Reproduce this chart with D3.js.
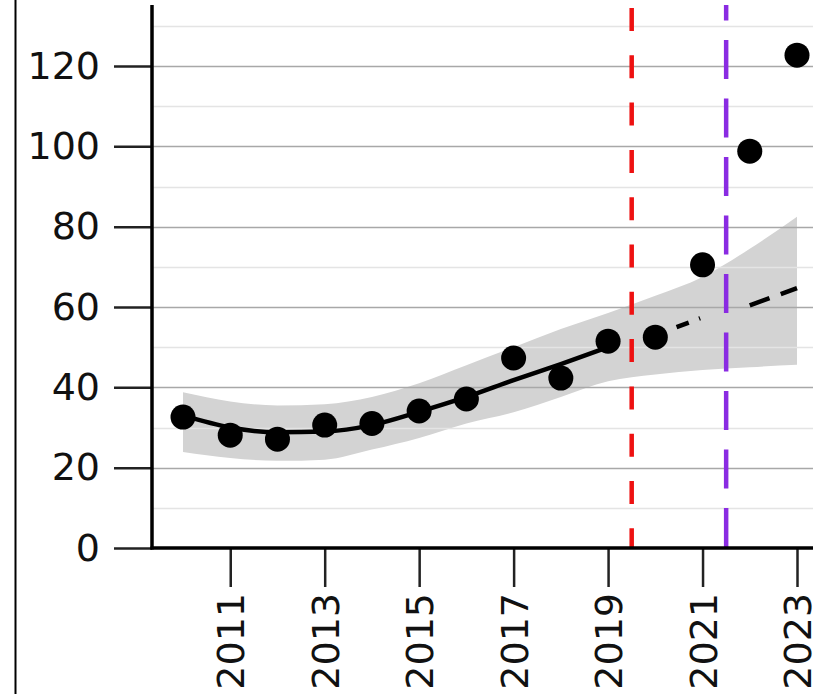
<!DOCTYPE html>
<html>
<head>
<meta charset="utf-8">
<script src="https://cdn.jsdelivr.net/npm/d3@7"></script>
<style>
  body { margin: 0; background: #fff; }
  text { font-family: "DejaVu Sans", sans-serif; }
</style>
</head>
<body>
<div class="chart"></div>
<script>
// observed values
var years = [2010, 2011, 2012, 2013, 2014, 2015, 2016, 2017, 2018, 2019, 2020, 2021, 2022, 2023];
var observed = [32.6, 28.1, 27.1, 30.6, 31.0, 34.1, 37.1, 47.3, 42.3, 51.5, 52.5, 70.5, 98.8, 122.7];

// fitted trend (solid part) and forecast (dashed pieces)
var fitYears = [2010, 2011, 2012, 2013, 2014, 2015, 2016, 2017, 2018, 2019];
var fitValues = [33.0, 30.0, 28.8, 29.0, 30.6, 33.9, 37.6, 41.8, 45.8, 50.0];
var dashA = [[2020.45, 55.0], [2020.95, 57.2]];
var dashB = [[2022.0, 60.4], [2023.0, 64.7]];

// confidence band
var bandUpper = [38.8, 36.5, 35.5, 35.8, 37.6, 41.0, 45.5, 50.0, 54.5, 58.5, 62.8, 67.5, 74.5, 82.5];
var bandLower = [23.9, 22.4, 21.7, 22.0, 24.5, 27.4, 31.0, 33.8, 37.6, 41.5, 43.2, 44.3, 45.0, 45.6];

// vertical markers
var redLineYear = 2019.5;
var purpleLineYear = 2021.5;

var yTicks = [0, 20, 40, 60, 80, 100, 120];
var yMinor = [10, 30, 50, 70, 90, 110, 130];
var xTicks = [2011, 2013, 2015, 2017, 2019, 2021, 2023];

var svgWidth = 813, svgHeight = 694;

var svg = d3.select(".chart").append("svg")
  .attr("width", svgWidth)
  .attr("height", svgHeight);

var x = d3.scaleLinear().domain([2010, 2023]).range([183, 797]);
var y = d3.scaleLinear().domain([0, 120]).range([548, 66]);
var axisX = 152;

// left frame
svg.append("line")
  .attr("x1", 15.5).attr("x2", 15.5).attr("y1", 0).attr("y2", svgHeight)
  .attr("stroke", "#000").attr("stroke-width", 2);

// band
var band = years.map((d, i) => ({ year: d, lo: bandLower[i], hi: bandUpper[i] }));
svg.append("path")
  .datum(band)
  .attr("fill", "#d3d3d3")
  .attr("d", d3.area()
    .x(d => x(d.year))
    .y0(d => y(d.lo))
    .y1(d => y(d.hi))
    .curve(d3.curveMonotoneX));

// grid
svg.selectAll(".minor").data(yMinor).enter().append("line")
  .attr("x1", axisX).attr("x2", svgWidth)
  .attr("y1", d => Math.round(y(d)) + 0.5).attr("y2", d => Math.round(y(d)) + 0.5)
  .attr("stroke", "#e4e4e4").attr("stroke-width", 1.5);

svg.selectAll(".major").data(yTicks.slice(1)).enter().append("line")
  .attr("x1", axisX).attr("x2", svgWidth)
  .attr("y1", d => Math.round(y(d)) + 0.5).attr("y2", d => Math.round(y(d)) + 0.5)
  .attr("stroke", "#a8a8a8").attr("stroke-width", 1.5);

// vertical dashed markers
svg.append("line")
  .attr("x1", x(redLineYear)).attr("x2", x(redLineYear))
  .attr("y1", 8).attr("y2", 548)
  .attr("stroke", "#ee1111").attr("stroke-width", 4.5)
  .attr("stroke-dasharray", "23,24.3");

svg.append("line")
  .attr("x1", x(purpleLineYear)).attr("x2", x(purpleLineYear))
  .attr("y1", 5).attr("y2", 548)
  .attr("stroke", "#8a2be2").attr("stroke-width", 4.5)
  .attr("stroke-dasharray", "39,19.5")
  .attr("stroke-dashoffset", 23.5);

// fitted line
var fit = fitYears.map((d, i) => [d, fitValues[i]]);
var line = d3.line().x(d => x(d[0])).y(d => y(d[1])).curve(d3.curveMonotoneX);

svg.append("path").datum(fit)
  .attr("fill", "none").attr("stroke", "#000").attr("stroke-width", 4.5)
  .attr("d", line);

svg.append("path").datum(dashA)
  .attr("fill", "none").attr("stroke", "#000").attr("stroke-width", 4.5)
  .attr("stroke-dasharray", "13,11")
  .attr("d", line);

svg.append("path").datum(dashB)
  .attr("fill", "none").attr("stroke", "#000").attr("stroke-width", 4.5)
  .attr("stroke-dasharray", "21,12")
  .attr("d", line);

// points
svg.selectAll(".pt").data(years).enter().append("circle")
  .attr("cx", d => x(d))
  .attr("cy", (d, i) => y(observed[i]))
  .attr("r", 12.5)
  .attr("fill", "#000");

// y axis
var yAxis = d3.axisLeft(y).tickValues(yTicks).tickSize(38).tickPadding(14).tickFormat(d3.format("d"));
var gy = svg.append("g").attr("transform", `translate(${axisX},0)`).call(yAxis);
gy.select(".domain").remove();
gy.selectAll(".tick line").attr("stroke", "#222").attr("stroke-width", 2.5);
gy.selectAll(".tick text").attr("font-size", 38).attr("fill", "#111")
  .attr("font-family", "DejaVu Sans");

svg.append("line")
  .attr("x1", axisX).attr("x2", axisX).attr("y1", 5).attr("y2", 549.5)
  .attr("stroke", "#000").attr("stroke-width", 3.5);

// x axis
var xAxis = d3.axisBottom(x).tickValues(xTicks).tickSize(39).tickFormat(d3.format("d"));
var gx = svg.append("g").attr("transform", "translate(0,548)").call(xAxis);
gx.select(".domain").remove();
gx.selectAll(".tick line").attr("stroke", "#222").attr("stroke-width", 2.5);
gx.selectAll(".tick text")
  .attr("font-size", 38).attr("fill", "#111")
  .attr("font-family", "DejaVu Sans")
  .attr("text-anchor", "end")
  .attr("transform", "translate(0,45) rotate(-90)")
  .attr("x", 0).attr("y", 0).attr("dy", "0.36em");

svg.append("line")
  .attr("x1", axisX - 1.5).attr("x2", svgWidth).attr("y1", 548).attr("y2", 548)
  .attr("stroke", "#000").attr("stroke-width", 3.5);
</script>
</body>
</html>
